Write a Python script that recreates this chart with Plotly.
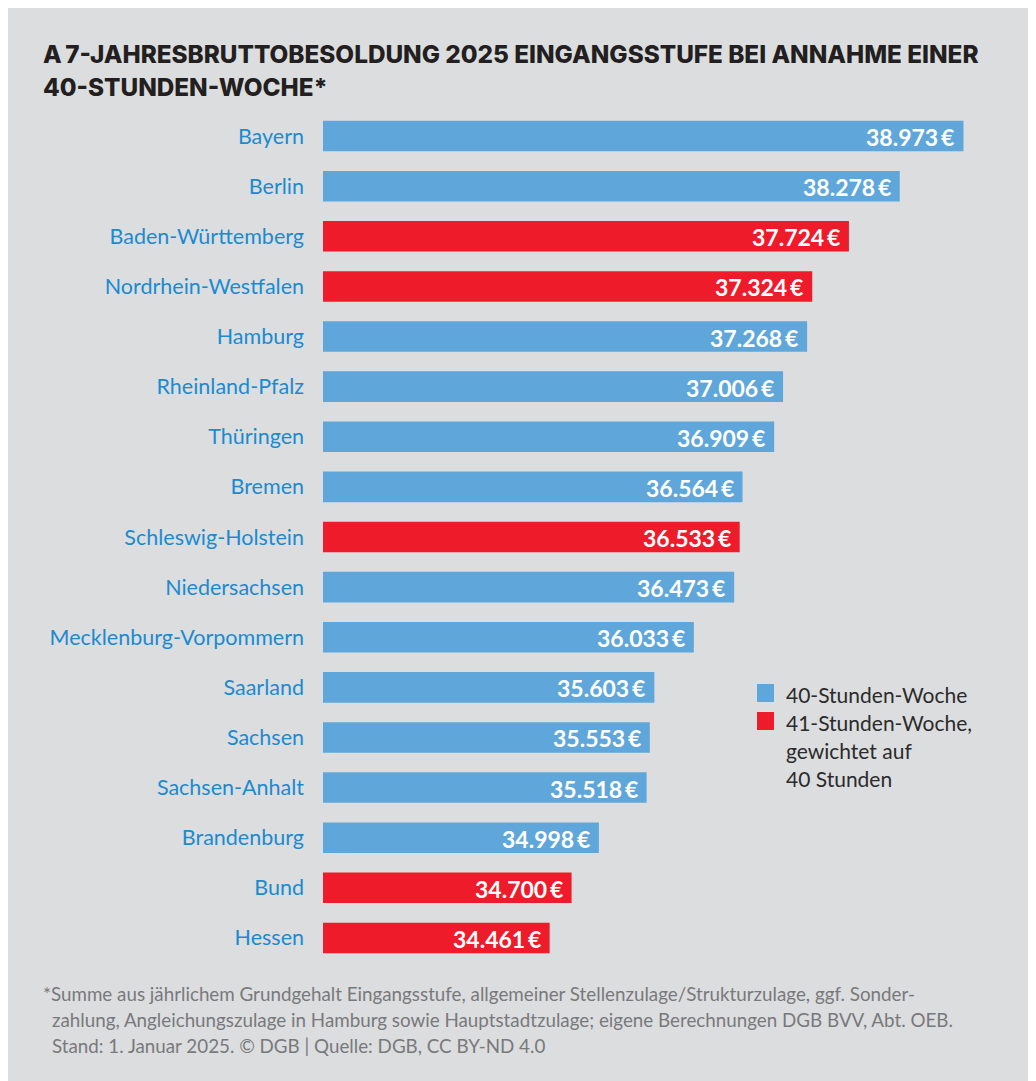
import plotly.graph_objects as go

# The page places the figure 8px from the top-left corner (body margin),
# so the figure is sized 1028x1073 and positions are given in screen pixels minus 8.
OFF = 8
W, H = 1036 - OFF, 1081 - OFF

states = ["Bayern", "Berlin", "Baden-Württemberg", "Nordrhein-Westfalen", "Hamburg",
          "Rheinland-Pfalz", "Thüringen", "Bremen", "Schleswig-Holstein", "Niedersachsen",
          "Mecklenburg-Vorpommern", "Saarland", "Sachsen", "Sachsen-Anhalt", "Brandenburg",
          "Bund", "Hessen"]
values = [38973, 38278, 37724, 37324, 37268, 37006, 36909, 36564, 36533, 36473,
          36033, 35603, 35553, 35518, 34998, 34700, 34461]
week41 = [False, False, True, True, False, False, False, False, True, False,
          False, False, False, False, False, True, True]
value_labels = ["38.973\u2009€", "38.278\u2009€", "37.724\u2009€", "37.324\u2009€", "37.268\u2009€",
                "37.006\u2009€", "36.909\u2009€", "36.564\u2009€", "36.533\u2009€", "36.473\u2009€",
                "36.033\u2009€", "35.603\u2009€", "35.553\u2009€", "35.518\u2009€", "34.998\u2009€",
                "34.700\u2009€", "34.461\u2009€"]
legend_labels = ["40-Stunden-Woche", "41-Stunden-Woche,", "gewichtet auf", "40 Stunden"]

BLUE = "#5fa7da"
RED = "#ee1c2b"
BG = "#dcdddf"
LABEL = "#1a8bd1"

# plot area in screen pixels
PL, PR, PT, PB = 323, 1021, 111, 963
ML, MT = PL - OFF, PT - OFF
MR = W - (PR - OFF)
MB = H - (PB - OFF)
PW, PH = PR - PL, PB - PT


def xp(px):
    return (px - PL) / PW


def yp(py):
    return 1 - (py - PT) / PH


colors = [RED if r else BLUE for r in week41]

fig = go.Figure()
fig.add_trace(go.Bar(
    x=values, y=states, orientation="h", marker=dict(color=colors, line=dict(width=0)),
    width=0.61, showlegend=False, hoverinfo="x+y",
))

for s, v, t in zip(states, values, value_labels):
    fig.add_annotation(x=v, y=s, xref="x", yref="y", text="<b>%s</b>" % t,
                       xanchor="right", yanchor="middle", xshift=-7, yshift=-1, showarrow=False,
                       font=dict(family="Lato", size=23, color="white"))

# title
for i, line in enumerate(["A\u20097-JAHRESBRUTTOBESOLDUNG 2025 EINGANGSSTUFE BEI ANNAHME EINER",
                          "40-STUNDEN-WOCHE*"]):
    fig.add_annotation(xref="paper", yref="paper", x=xp(41), y=yp(54 + 33 * i),
                       xanchor="left", yanchor="middle", showarrow=False,
                       text=line,
                       font=dict(family="Inter", size=24.3, weight=800, color="#231f20"))

# legend (manual)
for yy, c in zip([693, 721], [BLUE, RED]):
    fig.add_shape(type="rect", xref="paper", yref="paper", x0=xp(757), x1=xp(774),
                  y0=yp(yy + 9), y1=yp(yy - 9), fillcolor=c, line=dict(width=0))
for i, t in enumerate(legend_labels):
    fig.add_annotation(xref="paper", yref="paper", x=xp(784), y=yp(694 + 28 * i),
                       xanchor="left", yanchor="middle", showarrow=False, text=t,
                       font=dict(family="Lato", size=21, color="#2b2b2b"))

# footnote
foot = ["*Summe aus jährlichem Grundgehalt Eingangsstufe, allgemeiner Stellenzulage/Strukturzulage, ggf. Sonder-",
        "zahlung, Angleichungszulage in Hamburg sowie Hauptstadtzulage; eigene Berechnungen DGB BVV, Abt. OEB.",
        "Stand: 1. Januar 2025. \u00a9 DGB | Quelle: DGB, CC BY-ND 4.0"]
for i, t in enumerate(foot):
    fig.add_annotation(xref="paper", yref="paper", x=xp(41 if i == 0 else 50), y=yp(993 + 26 * i),
                       xanchor="left", yanchor="middle", showarrow=False, text=t,
                       font=dict(family="Lato", size=18.8, color="#78797b"))

fig.update_layout(
    width=W, height=H,
    margin=dict(l=ML, r=MR, t=MT, b=MB, pad=0),
    paper_bgcolor=BG, plot_bgcolor=BG,
    showlegend=False,
    xaxis=dict(range=[31990, 39600], showgrid=False, zeroline=False, showticklabels=False,
               ticks="", showline=False, fixedrange=True),
    yaxis=dict(autorange="reversed", showgrid=False, zeroline=False, ticks="",
               showline=False, ticklabelstandoff=18,
               tickfont=dict(family="Lato", size=21.5, color=LABEL), fixedrange=True),
)

fig.write_html("out.html")
